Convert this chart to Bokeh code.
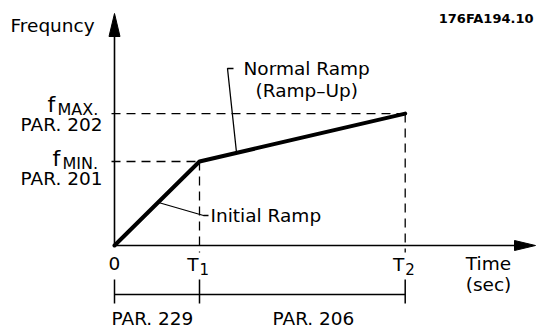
from bokeh.plotting import figure
from bokeh.models import Range1d
from bokeh.core.properties import value
from bokeh.embed import file_html
from bokeh.resources import INLINE

# ---- data (schematic units: time relative to T1, frequency relative to f_MIN)
ramp_times = [0.0, 1.0, 3.42]        # 0, T1, T2
ramp_freqs = [0.0, 1.0, 1.57]        # 0, f_MIN, f_MAX
time_labels = ["0", "T", "T"]
time_subs = ["", "1", "2"]
freq_labels = ["f", "f"]
freq_subs = ["MIN.", "MAX."]
freq_pars = ["PAR. 201", "PAR. 202"]
period_labels = ["PAR. 229", "PAR. 206"]
y_title = "Frequncy"
x_title = ["Time", "(sec)"]
ramp_names = ["Initial Ramp", "Normal Ramp", "(Ramp\u2013Up)"]
doc_id = "176FA194.10"

# ---- layout helpers (reference pixel -> data)
OX, OY = 114.0, 245.0       # origin in page pixels
SX, SY = 85.0, 84.0         # pixels per unit

def X(px):
    return (px - OX) / SX

def Y(py):
    return (OY - py) / SY

W, H = 545, 329
p = figure(width=W, height=H, output_backend="svg", toolbar_location=None,
           x_range=Range1d(X(0), X(W)), y_range=Range1d(Y(H), Y(0)),
           x_axis_type=None, y_axis_type=None, min_border=0,
           min_border_left=0, min_border_right=0, min_border_top=0, min_border_bottom=0)
p.grid.visible = False
p.outline_line_color = None
p.background_fill_color = "white"
p.border_fill_color = "white"

FONT = value("DejaVu Sans")
K = "black"
FS = 18.5

# axes with arrows
p.line([0, 0], [0, Y(30)], line_color=K, line_width=1.6)
p.line([0, X(520)], [0, 0], line_color=K, line_width=1.6)
p.patch([X(OX - 5.5), X(OX), X(OX + 5.5)], [Y(36), Y(13), Y(36)], color=K)
p.patch([X(514), X(535), X(514)], [Y(OY - 5), 0, Y(OY + 5)], color=K)

# dashed reference lines
t1, t2 = ramp_times[1], ramp_times[2]
fmin, fmax = ramp_freqs[1], ramp_freqs[2]
p.line([X(111), t1], [fmin, fmin], line_color=K, line_width=1.3, line_dash="9 6")
p.line([X(111), t2], [fmax, fmax], line_color=K, line_width=1.3, line_dash="9 6")
p.line([t1, t1], [fmin, Y(252)], line_color=K, line_width=1.3, line_dash="9 6")
p.line([t2, t2], [fmax, Y(252)], line_color=K, line_width=1.3, line_dash="9 6")

# ramp
p.line(ramp_times, ramp_freqs, line_color=K, line_width=4, line_cap="round", line_join="round")

# leaders
p.line([X(158), X(203), X(208)], [Y(202), Y(215), Y(215)], line_color=K, line_width=1.3)
p.line([X(236), X(227), X(233)], [Y(152), Y(68), Y(68)], line_color=K, line_width=1.3)

# bottom period bar
p.line([ramp_times[0], ramp_times[2]], [Y(294), Y(294)], line_color=K, line_width=1.5)
for t in ramp_times:
    p.line([t, t], [Y(279), Y(303)], line_color=K, line_width=1.5)

def txt(x, y, s, size, align="left", baseline="middle", style="normal"):
    p.text([x], [y], text=[s], text_font=FONT, text_font_size=f"{size}px",
           text_align=align, text_baseline=baseline, text_color=K,
           text_font_style=style)

# titles
txt(X(10), Y(25), y_title, FS)
txt(X(533), Y(18), doc_id, 13, align="right", style="bold")
txt(X(488), Y(263), x_title[0], FS, align="center")
txt(X(488), Y(284), x_title[1], FS, align="center")

# frequency labels
txt(X(52), Y(158), freq_labels[0], 22, baseline="alphabetic")
txt(X(62), Y(163), freq_subs[0], 16, baseline="alphabetic")
txt(X(47), Y(104), freq_labels[1], 22, baseline="alphabetic")
txt(X(57), Y(109), freq_subs[1], 16, baseline="alphabetic")
txt(X(102), Y(178), freq_pars[0], FS, align="right")
txt(X(102), Y(124), freq_pars[1], FS, align="right")

# time labels
txt(ramp_times[0], Y(263), time_labels[0], FS, align="center")
txt(t1 - X(OX + 1), Y(263.5), time_labels[1], FS, align="right")
txt(t1, Y(268.5), time_subs[1], 15)
txt(t2 - X(OX + 1), Y(263.5), time_labels[2], FS, align="right")
txt(t2, Y(268.5), time_subs[2], 15)

# period labels
txt(X(111), Y(318), period_labels[0], FS)
txt(X(272), Y(318), period_labels[1], FS)

# ramp names
txt(X(210), Y(215), ramp_names[0], FS)
txt(X(243), Y(68), ramp_names[1], FS)
txt(X(255), Y(90), ramp_names[2], FS)

open("out.html", "w").write(file_html(p, INLINE))
